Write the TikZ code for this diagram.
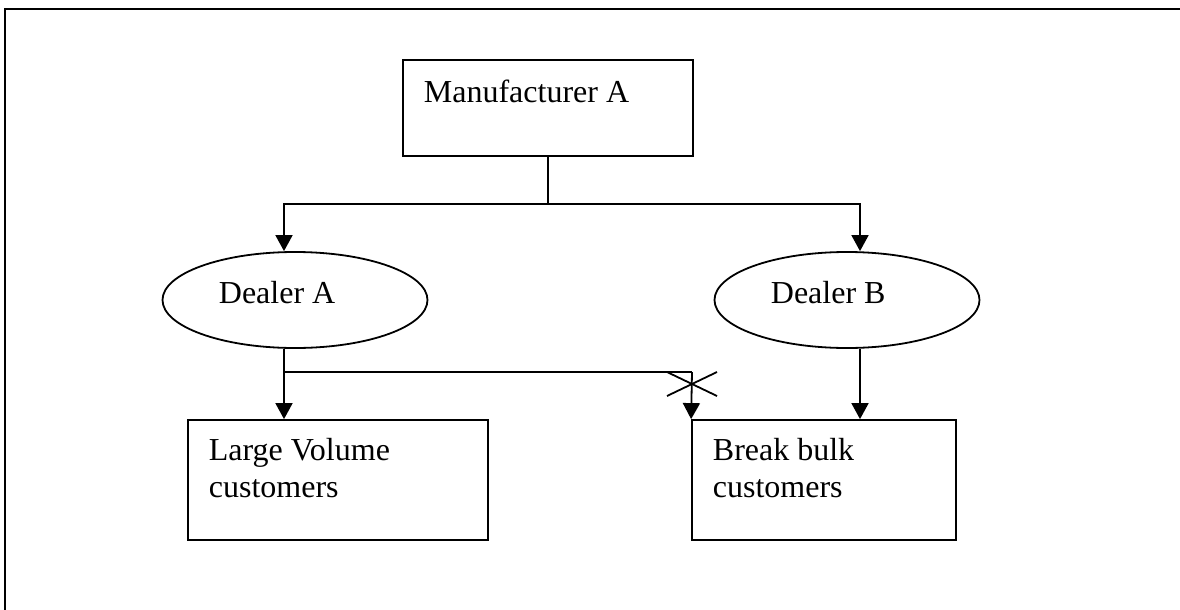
\documentclass[tikz,border=0pt]{standalone}
\usepackage{fontspec}
\setmainfont{Liberation Serif}
\usetikzlibrary{arrows.meta,shapes.geometric}
\begin{document}
\begin{tikzpicture}[x=1pt,y=-1pt,
  line width=1.8pt,
  box/.style={draw,rectangle,inner sep=0pt},
  oval/.style={draw,ellipse,inner sep=0pt,minimum width=265pt,minimum height=96pt},
  lbl/.style={anchor=base west,inner sep=0pt,align=left,
    font=\fontsize{32}{37}\selectfont},
  arr/.style={-{Triangle[width=17pt,length=16pt]}},
  frame/.style={line width=2.4pt}]
\useasboundingbox (0,0) rectangle (1180,610);
% page frame: only top and left edges are shown
\coordinate (fTL) at (5,9);
\coordinate (fTR) at (1180,9);
\coordinate (fBL) at (5,610);
\draw[frame] (fTR) -- (fTL) -- (fBL);

% boxes and ovals
\node[box,minimum width=290pt,minimum height=96pt] (man) at (548,108) {};
\node[oval] (dA) at (295,300) {};
\node[oval] (dB) at (847,300) {};
\node[box,minimum width=300pt,minimum height=120pt] (lv) at (338,480) {};
\node[box,minimum width=264pt,minimum height=120pt] (bb) at (824,480) {};

% texts (two-line labels are anchored on their last baseline)
\node[lbl] (tman) at (423,102) {Manufacturer A};
\node[lbl] (tdA) at (218,303) {Dealer A};
\node[lbl] (tdB) at (770,303) {Dealer B};
\node[lbl] (tlv) at (208,497) {Large Volume\\customers};
\node[lbl] (tbb) at (712,497) {Break bulk\\customers};

% junction points
\coordinate (j1) at (548,204);
\coordinate (hA) at (284,204);
\coordinate (hB) at (860,204);
\coordinate (j2) at (284,372);
\coordinate (j3) at (692,372);
\coordinate (cross) at (692,384);

% manufacturer to dealers
\draw (man.south) -- (j1);
\draw[arr] (j1) -- (hA) -- (hA |- dA.north);
\draw[arr] (j1) -- (hB) -- (hB |- dB.north);

% dealers to customers
\draw[arr] (hA |- dA.south) -- (hA |- lv.north);
\draw (j2) -- (j3);
\draw[arr] (j3) -- (bb.north west);
\draw[arr] (hB |- dB.south) -- (hB |- bb.north);

% blocked route mark
\draw ([shift={(-25,-12)}]cross) -- ([shift={(25,12)}]cross);
\draw ([shift={(-25,12)}]cross) -- ([shift={(25,-12)}]cross);
\end{tikzpicture}
\end{document}
